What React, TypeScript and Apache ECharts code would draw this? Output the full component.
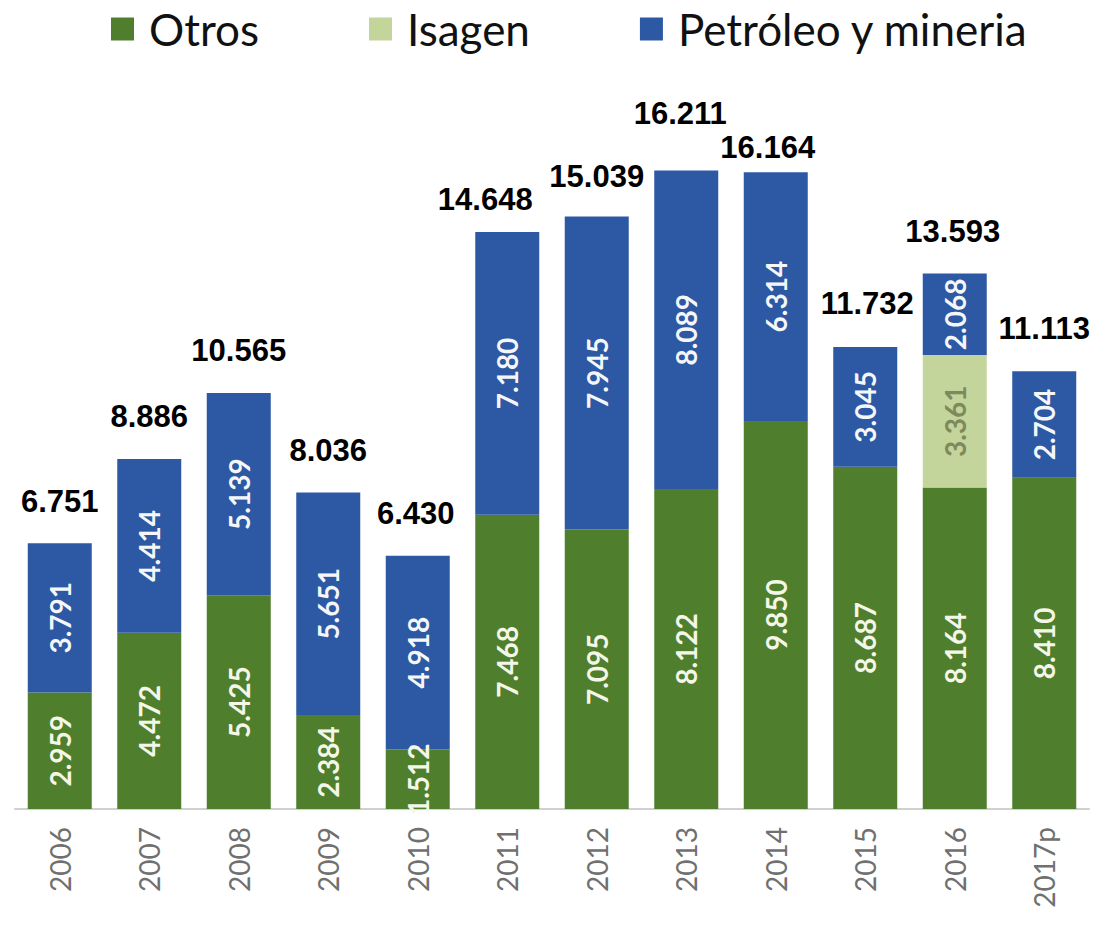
import React, { useEffect, useRef } from "react";
import * as echarts from "echarts";

const years = ["2006", "2007", "2008", "2009", "2010", "2011", "2012", "2013", "2014", "2015", "2016", "2017p"];
const otros = [2959, 4472, 5425, 2384, 1512, 7468, 7095, 8122, 9850, 8687, 8164, 8410];
const isagen = [0, 0, 0, 0, 0, 0, 0, 0, 0, 0, 3361, 0];
const petroleo = [3791, 4414, 5139, 5651, 4918, 7180, 7945, 8089, 6314, 3045, 2068, 2704];
const totals = [6751, 8886, 10565, 8036, 6430, 14648, 15039, 16211, 16164, 11732, 13593, 11113];
// label nudges (style only)
const totalLabelOffsets = [
  [0, -42], [0, -42], [0, -42], [0, -42], [-2, -42], [-22, -33],
  [0, -40], [-6, -57], [-8, -25], [2, -43], [-2, -42], [0, -43],
];

const fmt = (v: number) => (v ? (v / 1000).toFixed(3) : "");

export default function App() {
  const ref = useRef<HTMLDivElement>(null);
  useEffect(() => {
    if (!ref.current) return;
    const chart = echarts.init(ref.current, null, { renderer: "svg" });
    const innerLabel = (color: string) => ({
      show: true,
      position: "inside",
      rotate: 90,
      color,
      fontFamily: "Lato",
      fontWeight: "bold",
      fontSize: 28,
      formatter: (p: any) => fmt(p.value),
    });
    chart.setOption({
      animation: false,
      backgroundColor: "#ffffff",
      legend: {
        top: 2,
        left: 106,
        itemWidth: 23,
        itemHeight: 23,
        itemGap: 110,
        icon: "rect",
        textStyle: {
          fontFamily: "Lato",
          fontSize: 44,
          color: "#111",
          padding: [0, 0, 0, 10],
        },
        data: ["Otros", "Isagen", "Petróleo y mineria"],
      },
      grid: { left: 15, right: 4, top: 100, bottom: 117 },
      xAxis: {
        type: "category",
        data: years,
        axisLine: { show: true, lineStyle: { color: "#d0d0d0", width: 2 } },
        axisTick: { show: false },
        axisLabel: {
          rotate: 90,
          margin: 18,
          color: "#707070",
          fontFamily: "Lato",
          fontSize: 28,
        },
      },
      yAxis: {
        type: "value",
        min: 0,
        max: 18000,
        show: false,
        splitLine: { show: false },
      },
      series: [
        {
          name: "Otros",
          type: "bar",
          stack: "t",
          barWidth: 64,
          data: otros,
          itemStyle: { color: "#4f7f2d" },
          label: innerLabel("#f4f6e8"),
        },
        {
          name: "Isagen",
          type: "bar",
          stack: "t",
          barWidth: 64,
          data: isagen,
          itemStyle: { color: "#c3d59b" },
          label: innerLabel("#7d8a5c"),
        },
        {
          name: "Petróleo y mineria",
          type: "bar",
          stack: "t",
          barWidth: 64,
          data: petroleo,
          itemStyle: { color: "#2d58a3" },
          label: innerLabel("#f4f6f8"),
        },
        {
          name: "Total",
          type: "scatter",
          symbolSize: 1,
          itemStyle: { color: "rgba(0,0,0,0)" },
          silent: true,
          data: totals.map((t, i) => ({
            value: t,
            label: { offset: totalLabelOffsets[i] },
          })),
          label: {
            show: true,
            position: "inside",
            color: "#000000",
            opacity: 1,
            textBorderWidth: 0,
            fontFamily: "Liberation Sans",
            fontWeight: "bold",
            fontSize: 31,
            formatter: (p: any) => fmt(p.value),
          },
        },
      ],
    });
    return () => chart.dispose();
  }, []);
  return (
    <div
      ref={ref}
      style={{ position: "fixed", left: 0, top: 0, width: 1093, height: 926, background: "#fff" }}
    />
  );
}
